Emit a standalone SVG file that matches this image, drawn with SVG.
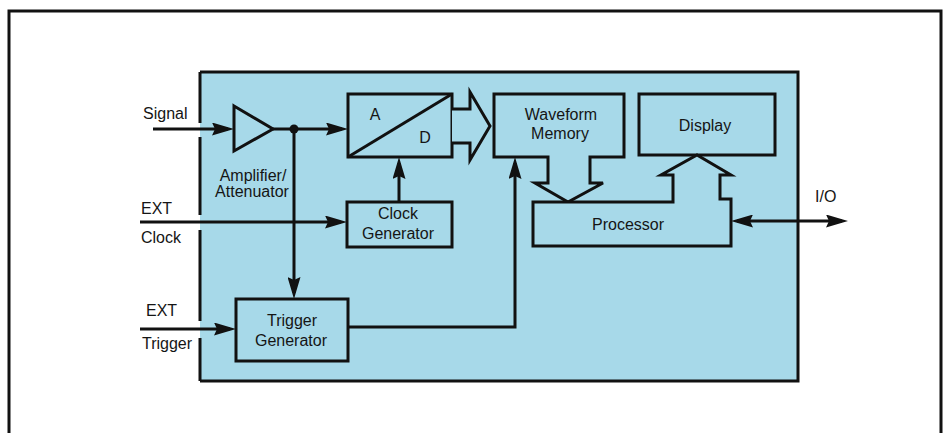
<svg xmlns="http://www.w3.org/2000/svg" width="945" height="433" viewBox="0 0 945 433">
<style>
.bx{fill:#a7d9e9;stroke:#111;stroke-width:3;stroke-linejoin:miter}
.ln{fill:none;stroke:#111;stroke-width:3}
.t{font-family:"Liberation Sans",Arial,sans-serif;font-size:16px;fill:#151515}
.c{text-anchor:middle}
</style>
<defs>
<marker id="ah" viewBox="0 0 22 13" refX="16" refY="6.5" markerWidth="22" markerHeight="13" markerUnits="userSpaceOnUse" orient="auto-start-reverse">
<path d="M0,0 L22,6.5 L0,13 L3,6.5 z" fill="#111"/>
</marker>
</defs>
<rect width="945" height="433" fill="#fff"/>
<!-- outer frame -->
<path d="M9,433 V11 H941 V433" fill="none" stroke="#111" stroke-width="3"/>
<!-- instrument body -->
<g id="body">
<rect x="200" y="72" width="598" height="309" fill="#a7d9e9"/>
<path d="M200,72 H798 V381 H200" fill="none" stroke="#111" stroke-width="3"/>
<path d="M200,72 V123 M200,137 V215 M200,230 V321 M200,338 V381" fill="none" stroke="#111" stroke-width="3"/>
</g>
<!-- connectors -->
<g id="connectors">
<path class="ln" d="M153,129 H228" marker-end="url(#ah)"/>
<path class="ln" d="M273,129 H342" marker-end="url(#ah)"/>
<path class="ln" d="M294,129 V293" marker-end="url(#ah)"/>
<path class="ln" d="M399,202 V163" marker-end="url(#ah)"/>
<path class="ln" d="M140,222 H341" marker-end="url(#ah)"/>
<path class="ln" d="M140,329 H230" marker-end="url(#ah)"/>
<path class="ln" d="M348,327 H515 V163" marker-end="url(#ah)"/>
<path class="ln" d="M737,221 H842" marker-start="url(#ah)" marker-end="url(#ah)"/>
<circle cx="294" cy="129" r="4.5" fill="#111"/>
</g>
<g id="amplifier">
<path class="bx" d="M234,106 L273,129 L234,151 z"/>
<text class="t c" x="253" y="181">Amplifier/</text>
<text class="t c" x="252" y="197">Attenuator</text>
</g>
<g id="adc">
<rect class="bx" x="348" y="94" width="104" height="63"/>
<path class="ln" d="M348,157 L452,94"/>
<text class="t c" x="375" y="120">A</text>
<text class="t c" x="425" y="143">D</text>
<path class="bx" d="M452,109 H470 V92 L490,126 L470,160 V143 H452"/>
</g>
<g id="waveform-memory">
<path class="bx" d="M494,94 H624 V157 H590 V183 H603 L568,202 L535,183 H548 V157 H494 z"/>
<text class="t c" x="561" y="120">Waveform</text>
<text class="t c" x="560" y="139">Memory</text>
</g>
<g id="display">
<rect class="bx" x="639" y="94" width="136" height="61"/>
<text class="t c" x="705" y="131">Display</text>
</g>
<g id="processor">
<path class="bx" d="M533,202 H673 V175 H661 L697,155 L731,175 H720 V199 H731 V246 H533 z"/>
<text class="t c" x="628" y="230">Processor</text>
</g>
<g id="clock-generator">
<rect class="bx" x="347" y="202" width="105" height="45"/>
<text class="t c" x="398" y="219">Clock</text>
<text class="t c" x="398" y="239">Generator</text>
</g>
<g id="trigger-generator">
<rect class="bx" x="236" y="299" width="112" height="62"/>
<text class="t c" x="292" y="326">Trigger</text>
<text class="t c" x="291" y="346">Generator</text>
</g>
<g id="labels">
<text class="t" x="143" y="119">Signal</text>
<text class="t" x="141" y="214">EXT</text>
<text class="t" x="141" y="243">Clock</text>
<text class="t" x="146" y="316">EXT</text>
<text class="t" x="142" y="349">Trigger</text>
<text class="t" x="815" y="202">I/O</text>
</g>
</svg>
